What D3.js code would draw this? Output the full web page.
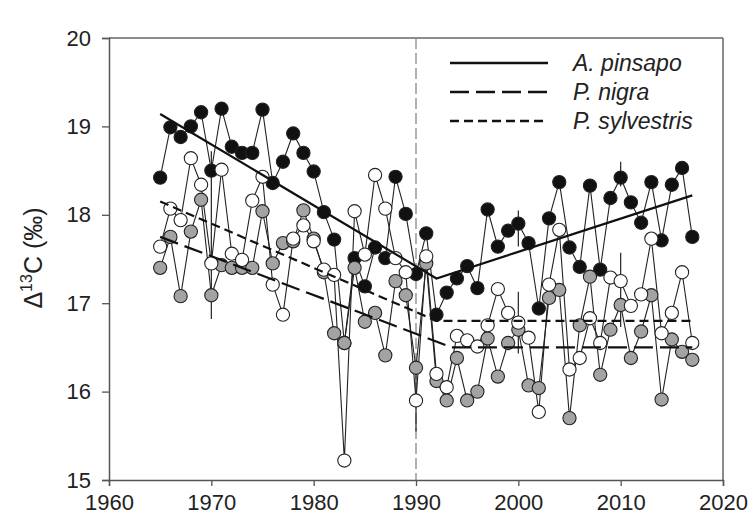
<!DOCTYPE html>
<html>
<head>
<meta charset="utf-8">
<script src="https://cdn.jsdelivr.net/npm/d3@7"></script>
<style>
  body { margin: 0; background: #fff; }
  text { font-family: "Liberation Sans", Arial, sans-serif; fill: #222; }
</style>
</head>
<body>
<svg id="chart" width="750" height="522"></svg>
<script>
// yearly delta13C, one value per year 1965..2017
var years = d3.range(1965, 2018);

var pinsapo = [18.42, 18.99, 18.88, 19.00, 19.16, 18.50, 19.20, 18.77, 18.70, 18.70,
               19.19, 18.36, 18.60, 18.92, 18.70, 18.49, 18.03, 17.72, 16.55, 17.51,
               17.19, 17.63, 17.51, 18.43, 18.01, 17.33, 17.79, 16.87, 17.12, 17.28,
               17.42, 17.17, 18.06, 17.64, 17.82, 17.90, 17.68, 16.94, 17.96, 18.37,
               17.63, 17.41, 18.33, 17.38, 18.19, 18.42, 18.14, 17.91, 18.37, 17.71,
               18.34, 18.53, 17.75];

var nigra = [17.40, 17.75, 17.08, 17.81, 18.17, 17.09, 17.43, 17.40, 17.40, 17.40,
             18.04, 17.45, 17.68, 17.70, 18.05, 17.73, 17.35, 16.66, 16.55, 17.40,
             16.79, 16.89, 16.41, 17.25, 17.09, 16.27, 17.45, 16.12, 15.90, 16.38,
             15.90, 16.00, 16.60, 16.17, 16.55, 16.70, 16.07, 16.04, 17.06, 17.15,
             15.70, 16.75, 17.30, 16.19, 16.70, 16.98, 16.38, 16.68, 17.09, 15.91,
             16.59, 16.45, 16.36];

var sylvestris = [17.64, 18.07, 17.94, 18.64, 18.34, 17.45, 18.51, 17.56, 17.49, 18.16,
                  18.43, 17.21, 16.87, 17.73, 17.88, 17.70, 17.38, 17.32, 15.22, 18.04,
                  17.55, 18.45, 18.07, 17.51, 17.35, 15.90, 17.53, 16.20, 16.05, 16.63,
                  16.58, 16.51, 16.75, 17.16, 16.89, 16.78, 16.61, 15.77, 17.21, 17.83,
                  16.25, 16.38, 16.83, 16.55, 17.29, 17.25, 16.97, 17.10, 17.73, 16.66,
                  16.89, 17.35, 16.55];

// piecewise regression lines (year, value)
var pinsapoFit = [[1965, 19.14], [1992, 17.28], [2017, 18.22]];
var nigraFit = [[1965, 17.75], [1993.5, 16.50], [2017, 16.50]];
var sylvestrisFit = [[1965, 18.15], [1992, 16.80], [2017, 16.80]];

// error bars
var errYears = [1970, 1990, 2000, 2000, 2010, 2010];
var errLow = [16.82, 15.55, 17.64, 16.43, 18.32, 16.73];
var errHigh = [18.72, 16.30, 18.05, 17.13, 18.60, 17.57];

var xTicks = [1960, 1970, 1980, 1990, 2000, 2010, 2020];
var yTicks = [15, 16, 17, 18, 19, 20];
var breakYear = 1990;

var legendNames = ["A. pinsapo", "P. nigra", "P. sylvestris"];

var svg = d3.select("#chart");
var margin = {top: 38, right: 27, bottom: 42, left: 109};
var width = 750 - margin.left - margin.right,
    height = 522 - margin.top - margin.bottom;

var g = svg.append("g")
    .attr("transform", "translate(" + margin.left + "," + margin.top + ")");

var x = d3.scaleLinear().domain([1960, 2020]).range([0, width]);
var y = d3.scaleLinear().domain([15, 20]).range([height, 0]);

// frame top/right
g.append("line").attr("x1", 0).attr("x2", width).attr("y1", 0).attr("y2", 0)
    .attr("stroke", "#666").attr("stroke-width", 1.5);
g.append("line").attr("x1", width).attr("x2", width).attr("y1", 0).attr("y2", height)
    .attr("stroke", "#666").attr("stroke-width", 1.5);

// 1990 reference line
g.append("line")
    .attr("x1", x(breakYear)).attr("x2", x(breakYear))
    .attr("y1", 0).attr("y2", height)
    .attr("stroke", "#888").attr("stroke-width", 1.3)
    .attr("stroke-dasharray", "11,4");

// axes
var xAxis = g.append("g")
    .attr("transform", "translate(0," + height + ")")
    .call(d3.axisBottom(x).tickValues(xTicks).tickFormat(d3.format("d")).tickSizeOuter(0).tickSize(6).tickPadding(8));
var yAxis = g.append("g")
    .call(d3.axisLeft(y).tickValues(yTicks).tickFormat(d3.format("d")).tickSizeOuter(0).tickSize(7).tickPadding(11));

[xAxis, yAxis].forEach(function (a) {
    a.select(".domain").attr("stroke", "#555").attr("stroke-width", 1.5);
    a.selectAll(".tick line").attr("stroke", "#555").attr("stroke-width", 1.3);
    a.selectAll("text").attr("font-size", 22).attr("fill", "#2a2a2a")
        .style("font-family", "'Liberation Sans', Arial, sans-serif");
});

// y label
var yl = svg.append("text")
    .attr("transform", "translate(42,258) rotate(-90)")
    .attr("text-anchor", "middle")
    .attr("font-size", 25);
yl.append("tspan").text("\u0394");
yl.append("tspan").attr("font-size", 16).attr("dy", -10).text("13");
yl.append("tspan").attr("dy", 10).text("C (\u2030)");

// error bars
g.selectAll(".err")
    .data(errYears)
    .enter().append("line")
    .attr("class", "err")
    .attr("x1", function (d) { return x(d); })
    .attr("x2", function (d) { return x(d); })
    .attr("y1", function (d, i) { return y(errLow[i]); })
    .attr("y2", function (d, i) { return y(errHigh[i]); })
    .attr("stroke", "#222").attr("stroke-width", 1.2);

var line = d3.line()
    .x(function (d) { return x(d[0]); })
    .y(function (d) { return y(d[1]); });

// series: draw black first, then grey, then white on top
var series = [
    {values: pinsapo, fill: "#111"},
    {values: nigra, fill: "#a3a3a3"},
    {values: sylvestris, fill: "#fff"}
];

series.forEach(function (s) {
    var pts = years.map(function (yr, i) { return [yr, s.values[i]]; });
    g.append("path")
        .datum(pts)
        .attr("d", line)
        .attr("fill", "none")
        .attr("stroke", "#222")
        .attr("stroke-width", 1.1);
});

series.forEach(function (s) {
    var pts = years.map(function (yr, i) { return [yr, s.values[i]]; });
    g.append("g").selectAll("circle")
        .data(pts)
        .enter().append("circle")
        .attr("cx", function (d) { return x(d[0]); })
        .attr("cy", function (d) { return y(d[1]); })
        .attr("r", 6.6)
        .attr("fill", s.fill)
        .attr("stroke", "#222")
        .attr("stroke-width", 1.1);
});

// fitted lines
var fits = [
    {pts: pinsapoFit, dash: null},
    {pts: nigraFit, dash: "19,7"},
    {pts: sylvestrisFit, dash: "9,5"}
];
fits.forEach(function (f) {
    g.append("path")
        .datum(f.pts)
        .attr("d", line)
        .attr("fill", "none")
        .attr("stroke", "#111")
        .attr("stroke-width", 2.2)
        .attr("stroke-dasharray", f.dash);
});

// legend
var legend = svg.append("g").attr("transform", "translate(450,63)");
legendNames.forEach(function (name, i) {
    var row = legend.append("g").attr("transform", "translate(0," + (i * 29) + ")");
    row.append("line")
        .attr("x1", 0).attr("x2", 98)
        .attr("stroke", "#111").attr("stroke-width", 2.4)
        .attr("stroke-dasharray", fits[i].dash);
    row.append("text")
        .attr("x", 123).attr("y", 8)
        .attr("font-size", 23)
        .attr("font-style", "italic")
        .text(name);
});
</script>
</body>
</html>
